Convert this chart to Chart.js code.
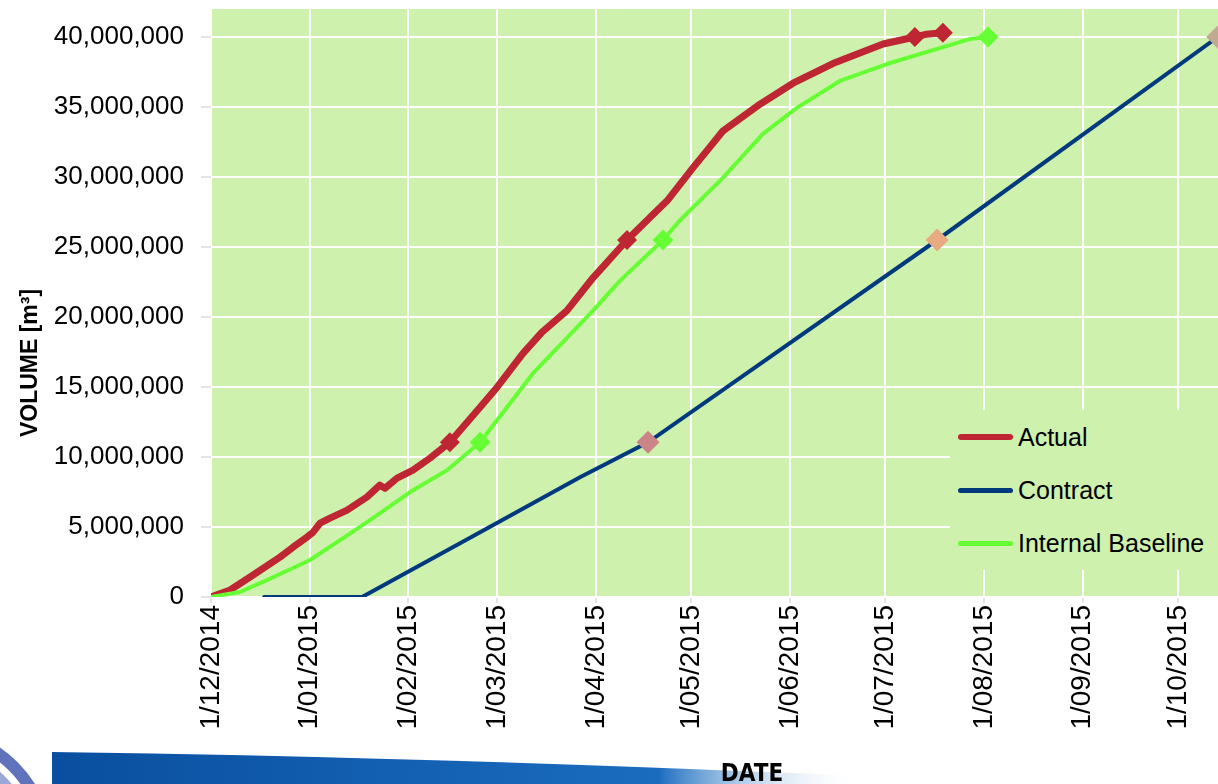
<!DOCTYPE html>
<html>
<head>
<meta charset="utf-8">
<title>Volume vs Date</title>
<script src="https://cdn.jsdelivr.net/npm/chart.js@4.4.1/dist/chart.umd.min.js"></script>
<style>
  html, body { margin: 0; padding: 0; background: #fff; }
  #wrap { position: relative; width: 1218px; height: 784px; overflow: hidden; }
  #deco { position: absolute; left: 0; top: 0; }
  #chart-box { position: absolute; left: 0; top: 0; width: 1218px; height: 784px; }
  #legend {
    position: absolute; left: 950px; top: 410px; width: 268px; height: 160px;
    background: #CEF1AE; font-family: "Liberation Sans", Arial, sans-serif; font-size: 25px; color: #000;
  }
  .item { position: absolute; left: 0; height: 30px; display: flex; align-items: center; white-space: nowrap; }
  .swatch { display: inline-block; width: 55px; border-radius: 3px; margin-left: 8px; margin-right: 5px; }
</style>
</head>
<body>
<div id="wrap">
  <svg id="deco" width="1218" height="784">
    <defs>
      <linearGradient id="band" x1="0" y1="0" x2="1" y2="0">
        <stop offset="0" stop-color="#0a4f9f"/>
        <stop offset="0.75" stop-color="#1a6cbf"/>
        <stop offset="1" stop-color="#ffffff" stop-opacity="0"/>
      </linearGradient>
    </defs>
    <circle cx="-70" cy="850" r="118" fill="none" stroke="#5f72bb" stroke-width="12"/>
    <circle cx="-70" cy="850" r="100" fill="none" stroke="#9aa6d8" stroke-width="10"/>
    <path d="M52,752 Q400,756 860,776 L860,784 L52,784 Z" fill="url(#band)"/>
  </svg>
  <div id="chart-box"><canvas id="volumeChart"></canvas></div>
  <div id="legend">
    <div class="item" style="top:12px"><span class="swatch" style="height:6px;background:#BE2633"></span>Actual</div>
    <div class="item" style="top:65px"><span class="swatch" style="height:5px;background:#003A7D"></span>Contract</div>
    <div class="item" style="top:118px"><span class="swatch" style="height:5px;background:#66FF33"></span>Internal Baseline</div>
  </div>
</div>

<script>
// x values are days since 1/12/2014, volumes in m3

const monthLabels = ['1/12/2014', '1/01/2015', '1/02/2015', '1/03/2015', '1/04/2015', '1/05/2015',
                     '1/06/2015', '1/07/2015', '1/08/2015', '1/09/2015', '1/10/2015'];
const monthDays = [0, 31, 62, 90, 121, 151, 182, 212, 243, 274, 304];
const volumeTicks = [0, 5e6, 10e6, 15e6, 20e6, 25e6, 30e6, 35e6, 40e6];

const actualDays = [0, 6, 12.3, 21.7, 25.8, 30.2, 32.1, 34.3, 37.4, 42.8, 49, 53.1, 54.7, 58.5, 63.5, 68.8,
                    75.1, 84.6, 89.9, 98.1, 104, 111.9, 120.1, 130.8, 138, 143.4, 151.5, 156, 161, 172.6,
                    183, 195.5, 211.3, 221.3, 225, 230.1];
const actualVol = [0, 0.5e6, 1.43e6, 2.85e6, 3.56e6, 4.28e6, 4.63e6, 5.28e6, 5.63e6, 6.2e6, 7.13e6, 7.99e6, 7.77e6,
                   8.49e6, 9.06e6, 9.91e6, 11.05e6, 13.55e6, 14.97e6, 17.4e6, 18.9e6, 20.46e6, 22.8e6, 25.5e6,
                   27.1e6, 28.3e6, 30.65e6, 31.9e6, 33.3e6, 35.2e6, 36.7e6, 38.1e6, 39.5e6, 40.0e6, 40.2e6, 40.3e6];

const contractDays = [16.7, 47.5, 84.6, 116, 137.4, 228.3, 316.5];
const contractVol = [0, 0, 4.63e6, 8.56e6, 11.05e6, 25.5e6, 40.0e6];

const baselineDays = [0, 9.1, 17.6, 25.8, 31.1, 40.6, 50, 63.5, 74.2, 84.6, 101.2, 120.1, 128.6, 142.1, 147.4,
                      161, 173.5, 184.2, 197.7, 212.5, 238.5, 244.3];
const baselineVol = [0, 0.36e6, 1.21e6, 2.07e6, 2.64e6, 4.06e6, 5.49e6, 7.63e6, 9.06e6, 11.05e6, 15.97e6,
                     20.46e6, 22.6e6, 25.5e6, 26.9e6, 29.95e6, 33.08e6, 34.94e6, 36.86e6, 38.07e6, 39.85e6, 40.0e6];

// milestone diamonds
const actualMarkDays = [75.1, 130.8, 221.3, 230.1];
const actualMarkVol = [11.05e6, 25.5e6, 40.0e6, 40.3e6];
const baselineMarkDays = [84.6, 142.1, 244.3];
const baselineMarkVol = [11.05e6, 25.5e6, 40.0e6];
const contractMarkDays = [137.4, 228.3, 316.5];
const contractMarkVol = [11.05e6, 25.5e6, 40.0e6];
const contractMarkColors = ['#CC8488', '#E8AA80', '#BFA990'];

function points(days, vols) {
    return days.map((d, i) => ({ x: d, y: vols[i] }));
}

function withCommas(v) {
    return String(v).replace(/\B(?=(\d{3})+(?!\d))/g, ',');
}

const plotBackground = {
    id: 'plotBackground',
    beforeDraw(chart) {
        const { ctx, chartArea } = chart;
        ctx.save();
        ctx.fillStyle = '#CEF1AE';
        ctx.fillRect(chartArea.left, chartArea.top, chartArea.right - chartArea.left, chartArea.bottom - chartArea.top);
        ctx.restore();
    }
};

const axisTitles = {
    id: 'axisTitles',
    afterDraw(chart) {
        const ctx = chart.ctx;
        ctx.save();
        ctx.fillStyle = '#000';
        ctx.font = 'bold 23px "Liberation Sans", Arial, sans-serif';
        ctx.textAlign = 'center';
        ctx.textBaseline = 'middle';
        ctx.translate(31, 363);
        ctx.rotate(-Math.PI / 2);
        ctx.fillText('VOLUME [m³]', 0, 0);
        ctx.restore();

        ctx.save();
        ctx.fillStyle = '#000';
        ctx.font = 'bold 24px "Liberation Sans Narrow", "DejaVu Sans Condensed", Arial, sans-serif';
        ctx.textAlign = 'center';
        ctx.textBaseline = 'alphabetic';
        ctx.fillText('DATE', 752, 781);
        ctx.restore();
    }
};

const markerStyle = { type: 'line', showLine: false, pointStyle: 'rectRot', pointBorderWidth: 0, order: -1 };

const ctx = document.getElementById('volumeChart').getContext('2d');
const volumeChart = new Chart(ctx, {
    type: 'line',
    data: {
        datasets: [
            {
                label: 'Actual',
                data: points(actualDays, actualVol),
                borderColor: '#BE2633',
                borderWidth: 7,
                pointRadius: 0,
                borderJoinStyle: 'round',
                borderCapStyle: 'round',
                order: 2
            },
            {
                label: 'Contract',
                data: points(contractDays, contractVol),
                borderColor: '#003A7D',
                borderWidth: 4,
                pointRadius: 0,
                borderCapStyle: 'round',
                order: 1
            },
            {
                label: 'Internal Baseline',
                data: points(baselineDays, baselineVol),
                borderColor: '#66FF33',
                borderWidth: 4,
                pointRadius: 0,
                borderJoinStyle: 'round',
                order: 0
            },
            Object.assign({ data: points(actualMarkDays, actualMarkVol), pointRadius: 10, pointBackgroundColor: '#BE2633' }, markerStyle),
            Object.assign({ data: points(baselineMarkDays, baselineMarkVol), pointRadius: 10.5, pointBackgroundColor: '#66FF33' }, markerStyle),
            Object.assign({ data: points(contractMarkDays, contractMarkVol), pointRadius: 11.5, pointBackgroundColor: contractMarkColors }, markerStyle)
        ]
    },
    options: {
        responsive: true,
        maintainAspectRatio: false,
        animation: false,
        layout: { autoPadding: false, padding: { top: 9, right: 0, left: 0, bottom: 0 } },
        plugins: {
            legend: { display: false },
            tooltip: { enabled: false }
        },
        scales: {
            x: {
                type: 'linear',
                min: 0,
                max: 316.6,
                afterBuildTicks: (scale) => { scale.ticks = monthDays.map(v => ({ value: v })); },
                afterFit: (scale) => {
                    scale.height = 187;
                    scale.paddingLeft = 0;
                    scale.paddingRight = 0;
                },
                ticks: {
                    autoSkip: false,
                    minRotation: 90,
                    maxRotation: 90,
                    padding: 2,
                    color: '#000',
                    font: { family: '"Liberation Sans", Arial, sans-serif', size: 28 },
                    callback: (value, index) => monthLabels[index]
                },
                grid: { color: '#ffffff', lineWidth: 2, tickLength: 6, tickColor: '#e4e4e4' },
                border: { display: false }
            },
            y: {
                min: 0,
                max: 42e6,
                afterBuildTicks: (scale) => { scale.ticks = volumeTicks.map(v => ({ value: v })); },
                afterFit: (scale) => {
                    scale.width = 211;
                    scale.paddingTop = 0;
                    scale.paddingBottom = 0;
                },
                ticks: {
                    padding: 17,
                    color: '#000',
                    font: { family: '"Liberation Sans", Arial, sans-serif', size: 26 },
                    callback: (value) => withCommas(value)
                },
                grid: { color: '#ffffff', lineWidth: 2, tickLength: 10, tickColor: '#e4e4e4' },
                border: { display: false }
            }
        }
    },
    plugins: [plotBackground, axisTitles]
});
</script>
</body>
</html>
